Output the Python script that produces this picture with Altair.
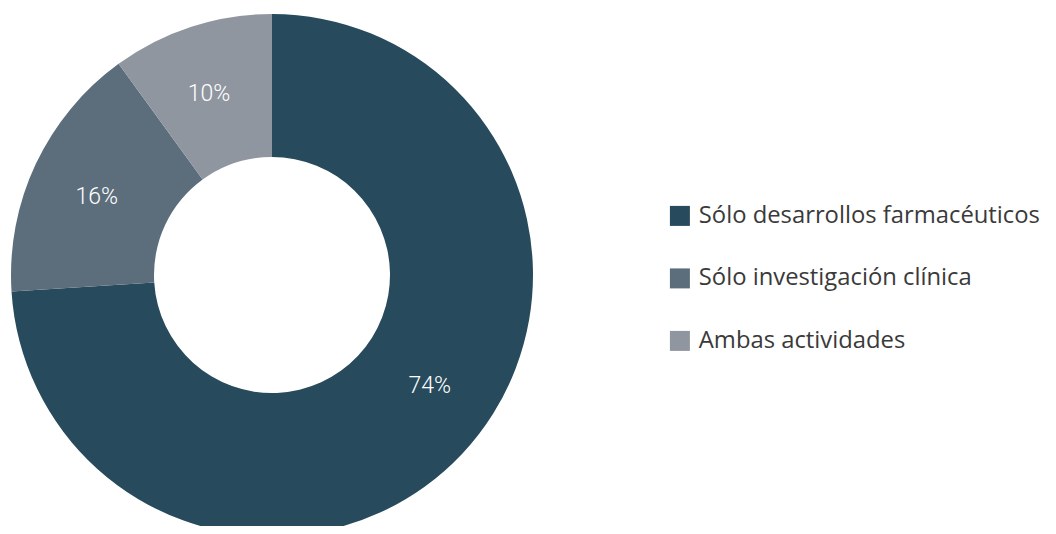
import altair as alt
import pandas as pd

categorias = ["Sólo desarrollos farmacéuticos", "Sólo investigación clínica", "Ambas actividades"]
valores = [74, 16, 10]
etiquetas = ["74%", "16%", "10%"]
colores = ["#274B5C", "#5C6E7C", "#9096A0"]

df = pd.DataFrame({
    "categoria": categorias,
    "valor": valores,
    "etiqueta": etiquetas,
    "orden": list(range(len(categorias))),
})

cx, cy = 264, 267

base = alt.Chart(df).encode(
    theta=alt.Theta("valor:Q", stack=True),
    order=alt.Order("orden:Q"),
    x=alt.value(cx),
    y=alt.value(cy),
)

arcs = base.mark_arc(outerRadius=261, innerRadius=118, stroke=None).encode(
    color=alt.Color(
        "categoria:N",
        scale=alt.Scale(domain=categorias, range=colores),
        sort=categorias,
        legend=alt.Legend(
            title=None,
            orient="none",
            legendX=660,
            legendY=196,
            symbolType="square",
            symbolSize=400,
            symbolStrokeWidth=0,
            labelFontSize=23.8,
            labelFont="Open Sans",
            labelFontWeight=400,
            labelColor="#3a3a3a",
            labelLimit=0,
            rowPadding=37.5,
            labelOffset=7,
            padding=0,
        ),
    )
)

text_style = dict(fontSize=23, font="Roboto", fontWeight=300, color="white")

texts_small = base.mark_text(radius=192, thetaOffset=-0.02, **text_style).encode(
    text=alt.condition(alt.datum.valor < 50, alt.Text("etiqueta:N"), alt.value(""))
)

texts_big = base.mark_text(radius=193, thetaOffset=-0.14, **text_style).encode(
    text=alt.condition(alt.datum.valor >= 50, alt.Text("etiqueta:N"), alt.value(""))
)

chart = (arcs + texts_small + texts_big).properties(
    width=1040,
    height=518,
    autosize=alt.AutoSizeParams(type="none"),
    padding=0,
).configure_view(stroke=None)

chart.save("out.html", embed_options={"renderer": "svg", "actions": False})
